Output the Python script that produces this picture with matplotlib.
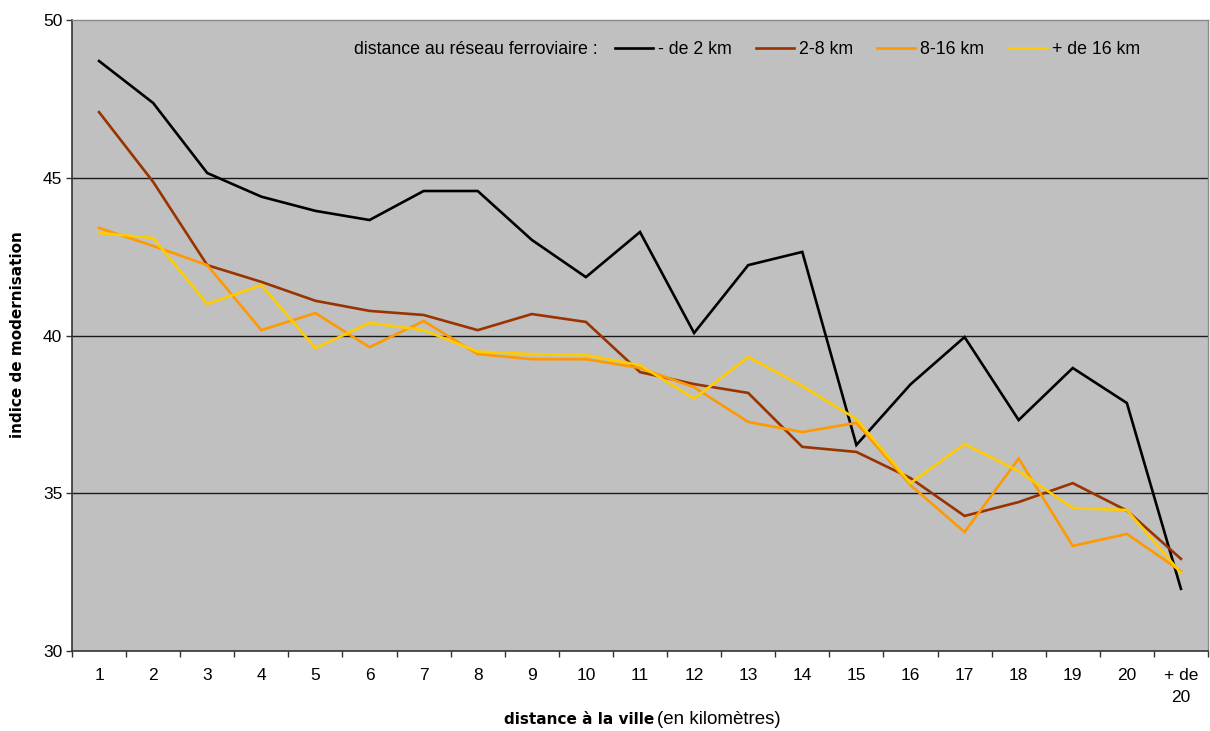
import matplotlib
matplotlib.use("Agg")
import matplotlib.pyplot as plt
from matplotlib.ticker import FixedLocator

plt.rcParams['font.family'] = ['Liberation Sans', 'DejaVu Sans']

categories = ["1", "2", "3", "4", "5", "6", "7", "8", "9", "10", "11", "12", "13",
              "14", "15", "16", "17", "18", "19", "20", "+ de\n20"]
series_names = ["- de 2 km", "2-8 km", "8-16 km", "+ de 16 km"]
moins_2km = [48.7, 47.37, 45.15, 44.4, 43.95, 43.66, 44.58, 44.58, 43.03, 41.85, 43.28,
             40.08, 42.23, 42.65, 36.53, 38.45, 39.95, 37.32, 38.97, 37.86, 31.97]
km_2_8 = [47.08, 44.87, 42.23, 41.7, 41.1, 40.78, 40.65, 40.17, 40.68, 40.43, 38.84,
          38.46, 38.18, 36.47, 36.31, 35.48, 34.28, 34.72, 35.32, 34.45, 32.92]
km_8_16 = [43.41, 42.84, 42.23, 40.17, 40.71, 39.63, 40.46, 39.41, 39.25, 39.25, 38.97,
           38.36, 37.26, 36.94, 37.23, 35.26, 33.77, 36.1, 33.33, 33.71, 32.53]
plus_16km = [43.25, 43.09, 41.0, 41.6, 39.6, 40.4, 40.17, 39.49, 39.41, 39.38, 39.06,
             38.0, 39.32, 38.4, 37.35, 35.32, 36.56, 35.7, 34.53, 34.47, 32.47]
yticks = [30, 35, 40, 45, 50]

colors = ["#000000", "#993300", "#FF9900", "#FFCC00"]
data = [moins_2km, km_2_8, km_8_16, plus_16km]

W, H = 1210, 731
fig = plt.figure(figsize=(W / 100, H / 100), dpi=100)
ax = fig.add_axes([72 / W, (H - 651) / H, (1208 - 72) / W, 631 / H])
ax.set_facecolor("#C0C0C0")

x = list(range(len(categories)))
for vals, c, name in zip(data, colors, series_names):
    ax.plot(x, vals, color=c, lw=1.9, label=name, solid_joinstyle='miter', zorder=3)

ax.set_xlim(-0.5, len(categories) - 0.5)
ax.set_ylim(30, 50)
ax.set_yticks(yticks)
for yv in [35, 40, 45]:
    ax.axhline(yv, color="#1a1a1a", lw=1.0, zorder=1)

ax.set_xticks(x)
ax.set_xticklabels(categories, fontsize=12.5, linespacing=1.65)
ax.xaxis.set_minor_locator(FixedLocator([i - 0.5 for i in range(len(categories) + 1)]))
ax.tick_params(axis='x', which='major', length=0, pad=12)
ax.tick_params(axis='x', which='minor', length=4, width=1, color="#333333", direction='out')
ax.tick_params(axis='y', length=4, width=1, color="#333333", pad=3, labelsize=12.5)

for s in ['left', 'bottom']:
    ax.spines[s].set_color("#333333")
    ax.spines[s].set_linewidth(1.2)
for s in ['top', 'right']:
    ax.spines[s].set_color("#888888")
    ax.spines[s].set_linewidth(1.0)

# y label
fig.text(18 / W, 1 - 335 / H, "indice de modernisation", rotation=90, fontsize=11,
         fontweight='bold', family='DejaVu Sans', ha='center', va='center')
# x label (bold + normal)
fig.text(654 / W, 1 - 719 / H, "distance à la ville", fontsize=11, fontweight='bold',
         family='DejaVu Sans', ha='right', va='center')
fig.text(657 / W, 1 - 719 / H, "(en kilomètres)", fontsize=13.5, ha='left', va='center')

# legend
fig.text(598 / W, 1 - 50 / H, "distance au réseau ferroviaire :", fontsize=12.8,
         ha='right', va='center')
leg = ax.legend(loc='center left', bbox_to_anchor=((615 - 72) / (1208 - 72), 1 - 30 / 631),
                ncol=4, frameon=False, fontsize=12.8, handlelength=2.15, handletextpad=0.28,
                columnspacing=1.35, borderaxespad=0, borderpad=0)

fig.savefig("out.png", dpi=100)
